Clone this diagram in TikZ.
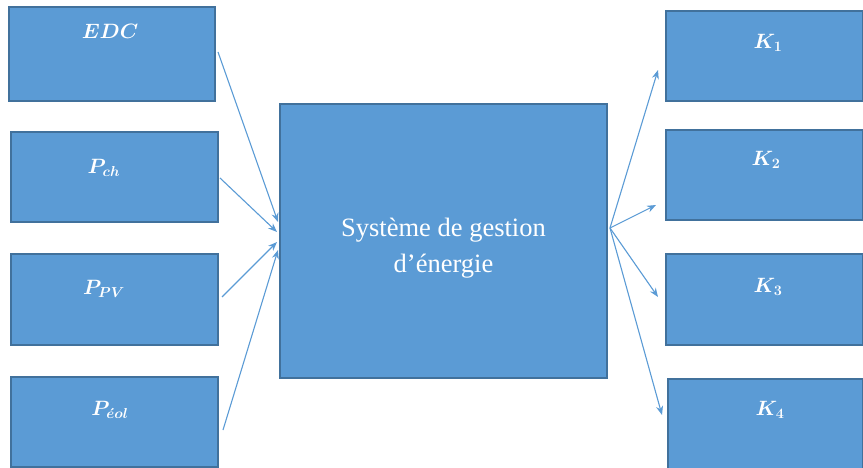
\documentclass[tikz,border=0pt]{standalone}
\usepackage{fontspec}
\setmainfont{Liberation Serif}
\usetikzlibrary{arrows.meta}
\definecolor{boxfill}{HTML}{5B9BD5}
\definecolor{boxedge}{HTML}{41719C}
\definecolor{arrowc}{HTML}{5B9BD5}
\begin{document}
\begin{tikzpicture}[x=1pt,y=-1pt,
  box/.style={draw=boxedge,fill=boxfill,line width=1.8pt,inner sep=0pt},
  lbl/.style={text=white,font=\fontsize{20}{24}\selectfont\boldmath},
  conn/.style={draw=arrowc,line width=1.1pt,-{Stealth[length=9pt,width=7pt]}}]
\useasboundingbox (0,0) rectangle (863,468);
% left boxes
\node[box,minimum width=206pt,minimum height=94pt] (edc) at (112,54) {};
\node[box,minimum width=207pt,minimum height=90pt] (pch) at (114.5,177) {};
\node[box,minimum width=207pt,minimum height=91pt] (ppv) at (114.5,299.5) {};
\node[box,minimum width=207pt,minimum height=90pt] (peol) at (114.5,422) {};
% central
\node[box,minimum width=327pt,minimum height=274pt] (sys) at (443.5,241) {};
\node[text=white,font=\fontsize{26.5}{36}\selectfont,align=center] (systxt) at (443.5,248) {Système de gestion\\d’énergie};
% right boxes
\node[box,minimum width=197pt,minimum height=90pt] (k1) at (764.5,56) {};
\node[box,minimum width=197pt,minimum height=90pt] (k2) at (764.5,175) {};
\node[box,minimum width=197pt,minimum height=91pt] (k3) at (764.5,299.5) {};
\node[box,minimum width=195pt,minimum height=90pt] (k4) at (765.5,424) {};
% labels
\node[lbl] (tedc) at (110,31) {$EDC$};
\node[lbl] (tpch) at (104,168) {$P_{ch}$};
\node[lbl] (tppv) at (104,289) {$P_{PV}$};
\node[lbl] (tpeol) at (110,410) {$P_{\acute{e}ol}$};
\node[lbl] (tk1) at (768,43) {$K_1$};
\node[lbl] (tk2) at (766,160) {$K_2$};
\node[lbl] (tk3) at (768,287) {$K_3$};
\node[lbl] (tk4) at (770,410) {$K_4$};
% connector anchors
\coordinate (a1s) at (218,52);  \coordinate (a1e) at (278,222);
\coordinate (a2s) at (220,178); \coordinate (a2e) at (277,232);
\coordinate (a3s) at (222,297); \coordinate (a3e) at (277,242);
\coordinate (a4s) at (223,430); \coordinate (a4e) at (278,250);
\coordinate (hub) at (610,228);
\coordinate (b1) at (658,70);
\coordinate (b2) at (656,205);
\coordinate (b3) at (658,297);
\coordinate (b4) at (662,415);
\draw[conn] (a1s) -- (a1e);
\draw[conn] (a2s) -- (a2e);
\draw[conn] (a3s) -- (a3e);
\draw[conn] (a4s) -- (a4e);
\draw[conn] (hub) -- (b1);
\draw[conn] (hub) -- (b2);
\draw[conn] (hub) -- (b3);
\draw[conn] (hub) -- (b4);
\end{tikzpicture}
\end{document}
